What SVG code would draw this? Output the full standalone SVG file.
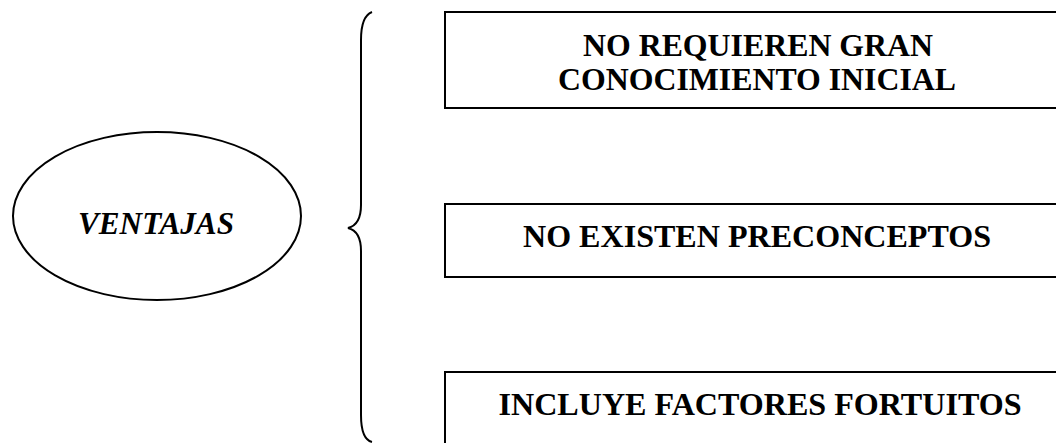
<svg xmlns="http://www.w3.org/2000/svg" width="1056" height="443" viewBox="0 0 1056 443">
  <style>
    .shape { fill: #fff; stroke: #000; stroke-width: 2; }
    .brace { fill: none; stroke: #000; stroke-width: 2; }
    .label { font-family: "Liberation Serif", "Times New Roman", serif; font-weight: bold; font-size: 32px; fill: #000; text-anchor: middle; }
    .italic { font-style: italic; }
  </style>
  <rect width="1056" height="443" fill="#fff"/>

  <g id="ventajas">
    <ellipse class="shape" cx="157" cy="216" rx="144" ry="84"/>
    <text class="label italic" x="156" y="234" textLength="156" lengthAdjust="spacingAndGlyphs">VENTAJAS</text>
  </g>

  <g id="connectors">
    <path class="brace" d="M372,12 C364,15 361,24 361,40 L361,205 C361,218 356,226 348,228 C356,230 361,238 361,251 L361,415 C361,431 364,440 372,442"/>
  </g>

  <g id="conocimiento">
    <rect class="shape" x="445" y="12" width="640" height="96"/>
    <text class="label" x="758" y="56" textLength="350" lengthAdjust="spacingAndGlyphs">NO REQUIEREN GRAN</text>
    <text class="label" x="757" y="90" textLength="398" lengthAdjust="spacingAndGlyphs">CONOCIMIENTO INICIAL</text>
  </g>

  <g id="preconceptos">
    <rect class="shape" x="445" y="204" width="640" height="73"/>
    <text class="label" x="757" y="247" textLength="468" lengthAdjust="spacingAndGlyphs">NO EXISTEN PRECONCEPTOS</text>
  </g>

  <g id="fortuitos">
    <rect class="shape" x="445" y="372" width="640" height="100"/>
    <text class="label" x="760" y="415" textLength="523" lengthAdjust="spacingAndGlyphs">INCLUYE FACTORES FORTUITOS</text>
  </g>
</svg>
